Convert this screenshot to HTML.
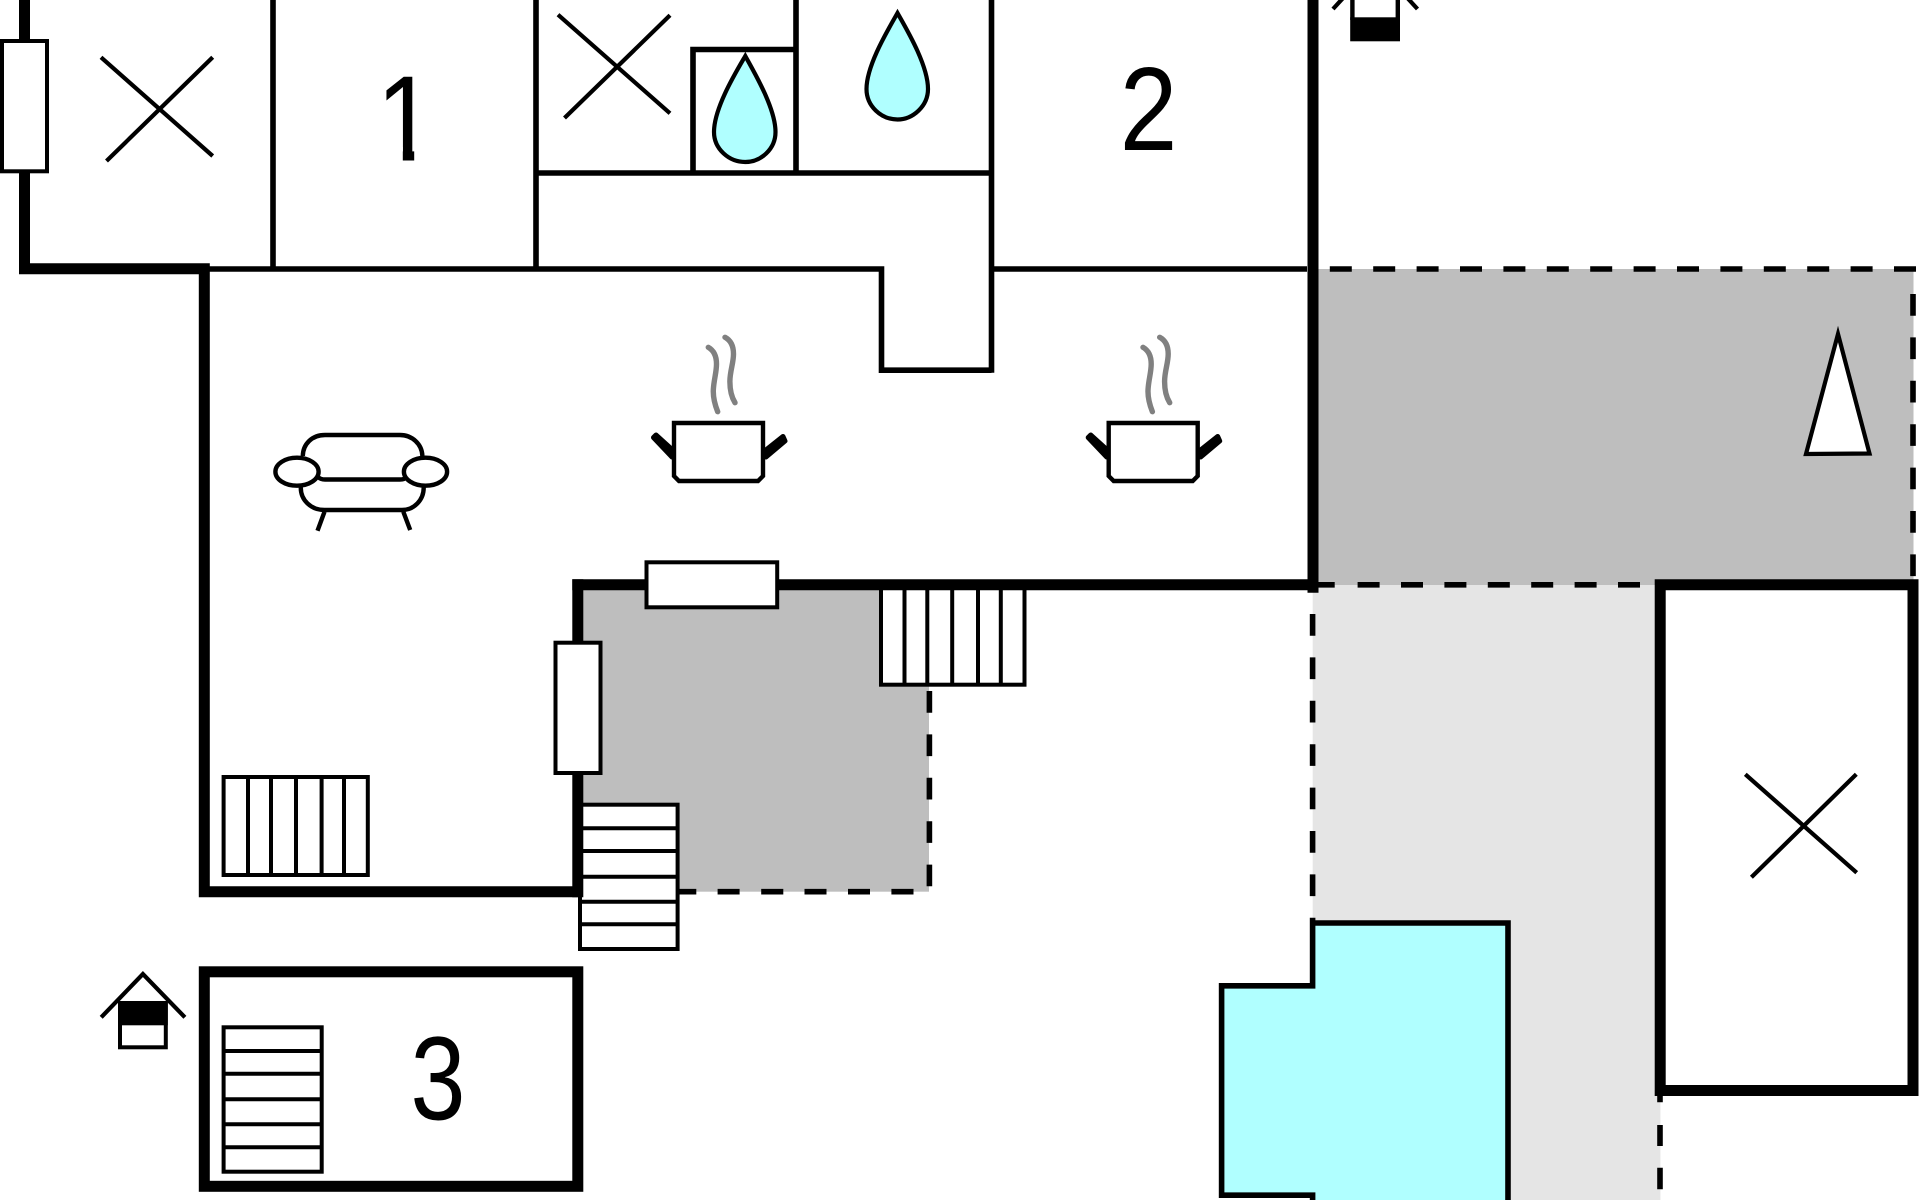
<!DOCTYPE html>
<html>
<head>
<meta charset="utf-8">
<title>Floor plan</title>
<style>
html,body{margin:0;padding:0;background:#fff;width:1920px;height:1200px;overflow:hidden}
svg{display:block}
text{font-family:"Liberation Sans",Arial,sans-serif;fill:#000}
</style>
</head>
<body>
<svg xmlns="http://www.w3.org/2000/svg" width="1920" height="1200" viewBox="0 0 1920 1200">
<defs>
<g id="pot">
<path d="M653.5 437.5L656 435L672 449.5L672 457Z" fill="#000" stroke="#000" stroke-width="5" stroke-linejoin="round"/>
<path d="M766 450L783 436.5L785 441L766 457Z" fill="#000" stroke="#000" stroke-width="5" stroke-linejoin="round"/>
<path d="M674 423H763V476L758 481H679L674 476Z" fill="#fff" stroke="#000" stroke-width="4.4"/>
<path d="M708.3 347.3C713 350 716.5 355 716.5 364C716.5 373 713.5 381 713.3 391C713.2 399 715 405 717.7 411.7" fill="none" stroke="#808080" stroke-width="5.4" stroke-linecap="round"/>
<path d="M725 337.3C730 340 733.5 345 733.5 354C733.5 363 730 371 729.9 381C729.8 390 731.5 397 735 402.7" fill="none" stroke="#808080" stroke-width="5.4" stroke-linecap="round"/>
</g>
</defs>
<rect width="1920" height="1200" fill="#fff"/>

<!-- fills -->
<rect x="1312.7" y="584" width="342" height="616" fill="#e5e5e5"/>
<rect x="1654" y="1090" width="6.4" height="110" fill="#e5e5e5"/>
<rect x="1318" y="269" width="595.5" height="316" fill="#bebebe"/>
<rect x="583" y="590" width="346" height="301.7" fill="#bebebe"/>

<!-- pool -->
<path d="M1312.6 923H1508V1200H1312.6V1195.2H1221.6V985.8H1312.6Z" fill="#b0ffff"/>
<path d="M1312.6 918V985.8H1221.6V1195.2H1312.6V1200M1310 923H1508V1200" fill="none" stroke="#000" stroke-width="5.6"/>

<!-- dashed edges -->
<g fill="none" stroke="#000" stroke-width="5.6">
<path d="M1329.8 269H1916" stroke-dasharray="22 21.4"/>
<path d="M1913 294V580" stroke-dasharray="21.7 21.7"/>
<path d="M1312 584.8H1654" stroke-dasharray="22.7 22.9 22 21.4 22 21.4 22 21.4 22 21.4 22 21.4 22 21.4 22 60"/>
<path d="M1312.6 614V918" stroke-dasharray="21.7 21.7"/>
<path d="M929.4 691V888" stroke-dasharray="21.7 21.7"/>
<path d="M679 891.7H696.3M717.6 891.7H739.6M761.2 891.7H783.3M804.5 891.7H826.5M848 891.7H870M891.4 891.7H913.5"/>
<path d="M1660 1096V1102.3M1660 1125V1146M1660 1167.7V1189.3"/>
</g>

<!-- thin walls -->
<g fill="none" stroke="#000" stroke-width="5.6">
<path d="M273 0V269M536 0V269M796 0V173M991.5 0V372.7"/>
<path d="M536 173H991.5"/>
<path d="M693 173V49.5H796"/>
<path d="M209 269H881.5V370.2H991.5"/>
<path d="M991.5 269H1307"/>
</g>

<!-- thick walls -->
<g fill="none" stroke="#000" stroke-width="11" stroke-linecap="butt">
<path d="M24.5 0V268.8H204.3V891.7H577.8"/>
</g>

<!-- stairs in living room (left) -->
<rect x="223.6" y="777" width="144.2" height="98" fill="#fff" stroke="#000" stroke-width="4"/>
<path d="M248 777V875M271 777V875M296 777V875M321.6 777V875M344 777V875" stroke="#000" stroke-width="4" fill="none"/>

<!-- stairs at terrace bottom -->
<rect x="580" y="804.7" width="97.6" height="144.3" fill="#fff" stroke="#000" stroke-width="4"/>
<path d="M580 828.3H677.6M580 851H677.6M580 876.7H677.6M580 901.7H677.6M580 924.3H677.6" stroke="#000" stroke-width="4" fill="none"/>

<!-- stairs under wall -->
<rect x="881" y="585" width="143.5" height="99.7" fill="#fff" stroke="#000" stroke-width="4"/>
<path d="M904.5 585V684.7M927.3 585V684.7M952.2 585V684.7M978 585V684.7M1000.8 585V684.7" stroke="#000" stroke-width="4" fill="none"/>

<g fill="none" stroke="#000" stroke-width="11">
<path d="M577.8 579.3V897.3"/>
<path d="M572.3 584.8H1318.4"/>
<path d="M1313 0V592.7"/>
<path d="M1654.7 584.8H1918M1660.2 579.3V1096M1654.7 1090.5H1918M1913 579.3V1096"/>
</g>

<!-- doors / windows -->
<rect x="2" y="41" width="45" height="130.3" fill="#fff" stroke="#000" stroke-width="4"/>
<rect x="555.5" y="642.7" width="45" height="130.3" fill="#fff" stroke="#000" stroke-width="4"/>
<rect x="646.5" y="562.3" width="130.7" height="45" fill="#fff" stroke="#000" stroke-width="4"/>

<!-- building 3 -->
<rect x="204.3" y="971.8" width="373.5" height="214.5" fill="#fff" stroke="#000" stroke-width="11"/>
<rect x="223.6" y="1027.3" width="98.1" height="144.4" fill="#fff" stroke="#000" stroke-width="4"/>
<path d="M223.6 1051H321.7M223.6 1073.7H321.7M223.6 1099.3H321.7M223.6 1124.3H321.7M223.6 1147.3H321.7" stroke="#000" stroke-width="4" fill="none"/>

<!-- crosses -->
<g stroke="#000" stroke-width="4.2" fill="none">
<path d="M101 57.3L212.7 156M212.7 57.3L106.5 161"/>
<path d="M558 14.7L670 113.3M564.5 118L670 15.3"/>
<path d="M1745.3 774.3L1856.7 872.7M1856.3 774.3L1751.4 877.3"/>
</g>

<!-- drops -->
<g fill="#b0ffff" stroke="#000" stroke-width="4.2" stroke-miterlimit="10">
<path d="M745.3 56C736 72 714 108 714 132C714 149 729 162 745.3 162C761 162 775.5 149 775.5 132C775.5 108 754 72 745.3 56Z"/>
<path d="M897.5 13C888.5 29 866.5 65 866.5 89C866.5 106 881 119.5 897.5 119.5C913 119.5 928 106 928 89C928 65 906.5 29 897.5 13Z"/>
</g>

<!-- pots -->
<use href="#pot"/>
<use href="#pot" x="434.7"/>

<!-- sofa -->
<g fill="none" stroke="#000" stroke-width="4.4">
<path d="M302.8 456C303 444 312 435 325 435H400C412 435 422 444 422.4 456"/>
<path d="M318 477C320 479 322 479.5 325 479.5H400C403 479.5 405 479 406 477"/>
<path d="M300.8 487.3C300.5 500 311 510 324.5 510H402C414 510 424 500 423.7 487"/>
<path d="M324.5 511.7L317.5 530.7M403.3 511.7L410.2 530"/>
<ellipse cx="297" cy="471.7" rx="21.6" ry="14"/>
<ellipse cx="425.5" cy="471.7" rx="21.6" ry="14"/>
</g>

<!-- north arrow -->
<polygon points="1838,334 1806,454 1869.5,453.5" fill="#fff" stroke="#000" stroke-width="4.2" stroke-miterlimit="12"/>

<!-- lower house -->
<path d="M101.2 1017.3L142.9 974L184.9 1017.3" fill="none" stroke="#000" stroke-width="4.2"/>
<rect x="120" y="1003" width="45.8" height="44.3" fill="#fff" stroke="#000" stroke-width="4"/>
<rect x="118" y="1001" width="49.8" height="24.3" fill="#000"/>

<!-- upper house: black band at the bottom -->
<path d="M1333 9L1344 -3M1417.5 9L1406.5 -3" fill="none" stroke="#000" stroke-width="4.2"/>
<path d="M1352.4 0V20M1397.8 0V20" fill="none" stroke="#000" stroke-width="4.4"/>
<rect x="1350.2" y="17.3" width="49.8" height="24" fill="#000"/>

<!-- labels -->
<text transform="translate(405.8 160.5) scale(.87 1)" font-size="122" text-anchor="middle">1</text>
<rect x="376" y="147" width="26.8" height="15" fill="#fff"/>
<rect x="414.2" y="147" width="24" height="15" fill="#fff"/>
<text transform="translate(1148.6 150) scale(.87 1)" font-size="119" text-anchor="middle">2</text>
<text transform="translate(438 1119.5) scale(.83 1)" font-size="119" text-anchor="middle">3</text>
</svg>
</body>
</html>
